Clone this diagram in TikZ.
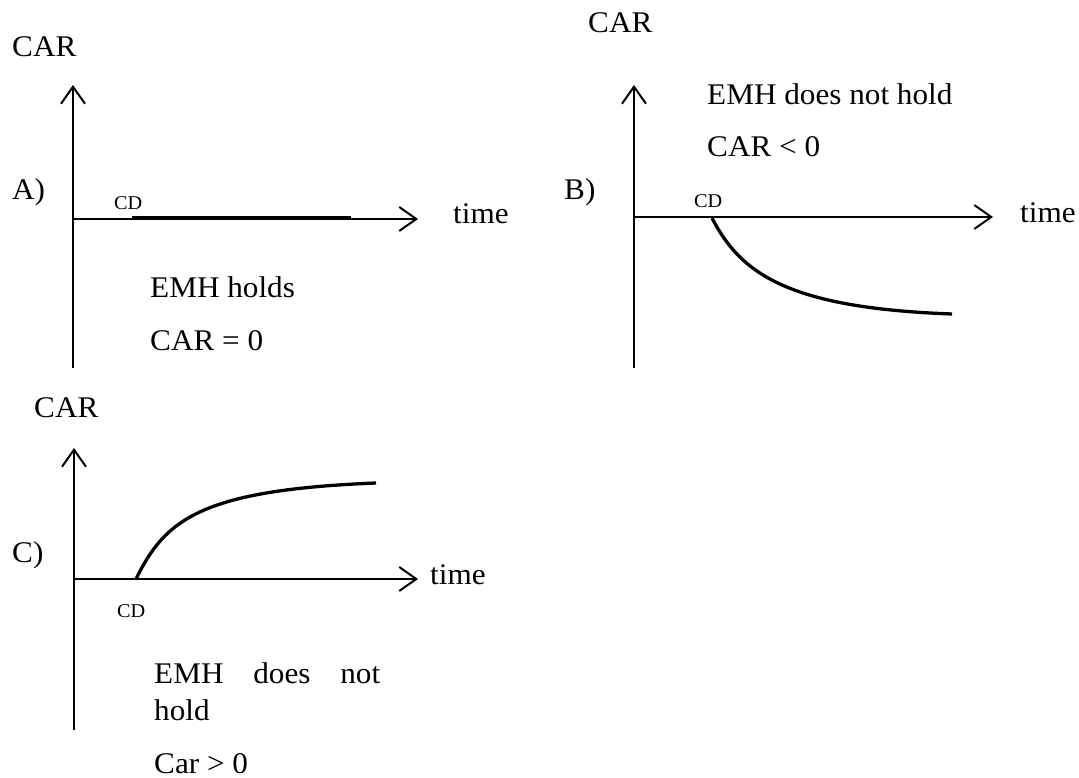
\documentclass[tikz,border=0pt]{standalone}
\usepackage{fontspec}
\setmainfont{Liberation Serif}[FakeStretch=1.04]
\usetikzlibrary{arrows.meta}
\begin{document}
\begin{tikzpicture}[x=1pt,y=-1pt,
  lbl/.style={anchor=base west,inner sep=0pt,font=\fontsize{30}{36}\selectfont},
  small/.style={anchor=base west,inner sep=0pt,font=\fontsize{19.5}{23}\selectfont},
  axis/.style={line width=2pt,-{Straight Barb[length=17pt,width=24pt,line width=2pt]}},
  curve/.style={line width=3.3pt},
  flat/.style={line width=3.5pt}]
\useasboundingbox (0,0) rectangle (1079,778);
% ---- Panel A
\coordinate (ao) at (73,219);
\coordinate (ab) at (73,368);
\coordinate (at) at (73,85);
\coordinate (ar) at (418,219);
\coordinate (af1) at (132,218);
\coordinate (af2) at (351,218);
\draw[line width=2pt] (ab) -- (ao);
\draw[axis] (ao) -- (at);
\draw[axis] (ao) -- (ar);
\draw[flat] (af1) -- (af2);
\node[lbl] (acar) at (12,57) {CAR};
\node[lbl] (alab) at (12,200) {A)};
\node[small] (acd) at (114,210) {CD};
\node[lbl] (atime) at (453,224) {time};
\node[lbl] (aemh) at (150,297) {EMH holds};
\node[lbl] (aeq) at (150,350) {CAR = 0};
% ---- Panel B
\coordinate (bo) at (634,217);
\coordinate (bb) at (634,368);
\coordinate (bt) at (634,85);
\coordinate (br) at (993,217);
\coordinate (bc1) at (712,218);
\coordinate (bc2) at (952,314);
\draw[line width=2pt] (bb) -- (bo);
\draw[axis] (bo) -- (bt);
\draw[axis] (bo) -- (br);
\draw[curve] (bc1) .. controls (740,272) and (785,308) .. (bc2);
\node[lbl] (bcar) at (588,33) {CAR};
\node[lbl] (bemh) at (707,105) {EMH does not hold};
\node[lbl] (blt) at (707,157) {CAR < 0};
\node[lbl] (blab) at (564,200) {B)};
\node[small] (bcd) at (694,208) {CD};
\node[lbl] (btime) at (1020,223) {time};
% ---- Panel C
\coordinate (co) at (74,579);
\coordinate (cb) at (74,730);
\coordinate (ct) at (74,448);
\coordinate (cr) at (418,579);
\coordinate (cc1) at (136,579);
\coordinate (cc2) at (376,483);
\draw[line width=2pt] (cb) -- (co);
\draw[axis] (co) -- (ct);
\draw[axis] (co) -- (cr);
\draw[curve] (cc1) .. controls (165,520) and (200,490) .. (cc2);
\node[lbl] (ccar) at (34,417) {CAR};
\node[lbl] (clab) at (12,562) {C)};
\node[small] (ccd) at (117,617) {CD};
\node[lbl] (ctime) at (430,584) {time};
\node[lbl] (cemh) at (154,683) {\makebox[226pt][s]{EMH\hfill does\hfill not}};
\node[lbl] (chold) at (154,720) {hold};
\node[lbl] (cgt) at (154,773) {Car > 0};
\end{tikzpicture}
\end{document}
